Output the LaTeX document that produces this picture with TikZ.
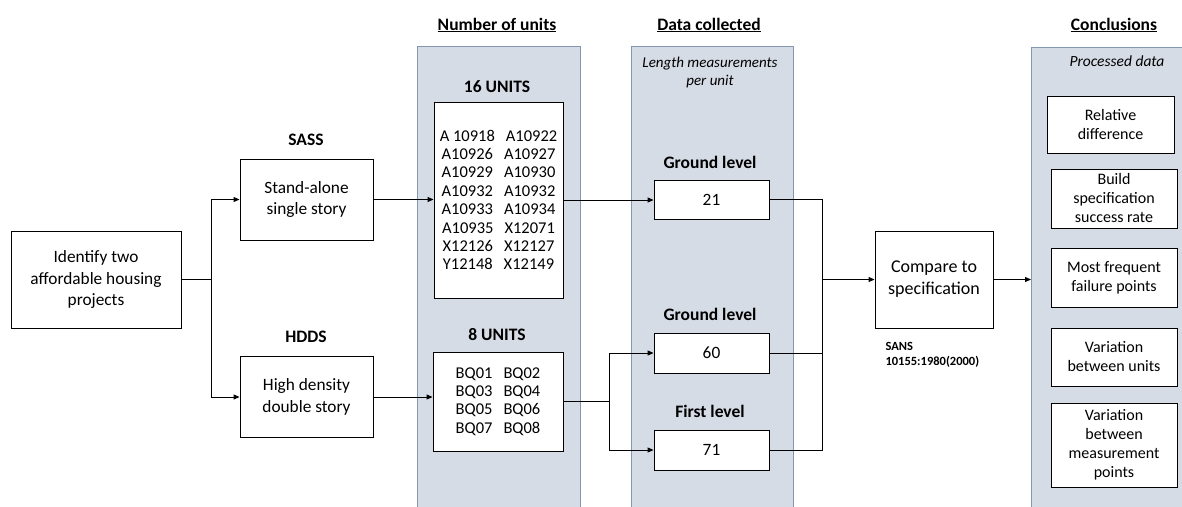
\documentclass[tikz,border=0pt]{standalone}
\usepackage{fontspec}
\setmainfont{Carlito}
\usetikzlibrary{arrows.meta}
\definecolor{panelfill}{HTML}{D6DCE5}
\definecolor{paneldraw}{HTML}{8497B0}
\tikzset{
  box/.style={draw=black, line width=0.9pt, fill=white, align=center, inner sep=0pt,
    font=\fontsize{17.3}{21.5}\selectfont},
  cbox/.style={box, font=\fontsize{16}{19}\selectfont},
  panel/.style={draw=paneldraw, line width=0.9pt, fill=panelfill, anchor=north west, inner sep=0pt},
  title/.style={font=\fontsize{17.5}{20}\selectfont\bfseries},
  lab/.style={font=\fontsize{17.5}{20}\selectfont\bfseries},
  conn/.style={line width=0.9pt, draw=black},
  arr/.style={conn, -{Triangle[length=6pt,width=5pt]}},
}
\begin{document}
\begin{tikzpicture}[x=1pt,y=-1pt]
\useasboundingbox (0,0) rectangle (1182,506);
\clip (0,0) rectangle (1182,506);
% panels
\node[panel, minimum width=163pt, minimum height=480pt] (p1) at (417,46) {};
\node[panel, minimum width=162pt, minimum height=480pt] (p2) at (631,46) {};
\node[panel, minimum width=160pt, minimum height=480pt] (p3) at (1031,47) {};
% titles
\node[title] (t1) at (497,25) {\underline{Number of units}};
\node[title] (t2) at (709,25) {\underline{Data collected}};
\node[title] (t3) at (1114,25) {\underline{Conclusions}};
\node[font=\fontsize{15}{18}\selectfont\itshape, align=center] (t2s) at (710,72) {Length measurements\\per unit};
\node[font=\fontsize{15.5}{18}\selectfont\itshape] (t3s) at (1117,61) {Processed data};
% left part
\node[box, minimum width=170pt, minimum height=97pt] (id) at (96,279.5) {Identify two\\affordable housing\\projects};
\node[box, minimum width=133pt, minimum height=81pt] (sass) at (306.5,199.5) {Stand-alone\\single story};
\node[box, minimum width=133pt, minimum height=81pt] (hdds) at (306.5,397) {High density\\double story};
\node[lab] (lsass) at (306,140) {SASS};
\node[lab] (lhdds) at (306,337) {HDDS};
% units
\node[lab] (l16) at (497,87) {16 UNITS};
\node[lab] (l8) at (497,335) {8 UNITS};
\node[box, minimum width=129pt, minimum height=196pt, font=\fontsize{16.5}{18.4}\selectfont] (b16) at (498.5,200)
 {A 10918\hspace{11pt}A10922\\A10926\hspace{11pt}A10927\\A10929\hspace{11pt}A10930\\A10932\hspace{11pt}A10932\\A10933\hspace{11pt}A10934\\A10935\hspace{11pt}X12071\\X12126\hspace{11pt}X12127\\Y12148\hspace{11pt}X12149};
\node[box, minimum width=130pt, minimum height=99pt, font=\fontsize{16.5}{18.4}\selectfont] (b8) at (498,401.5)
 {BQ01\hspace{11pt}BQ02\\BQ03\hspace{11pt}BQ04\\BQ05\hspace{11pt}BQ06\\BQ07\hspace{11pt}BQ08};
% data collected
\node[lab] (lg1) at (710,162) {Ground level};
\node[lab] (lg2) at (710,314) {Ground level};
\node[lab] (lf1) at (710,411) {First level};
\node[box, minimum width=115pt, minimum height=39pt] (b21) at (711.5,199.5) {21};
\node[box, minimum width=115pt, minimum height=40pt] (b60) at (711.5,353) {60};
\node[box, minimum width=115pt, minimum height=40pt] (b71) at (711.5,450) {71};
% compare
\node[box, minimum width=118pt, minimum height=97pt, font=\fontsize{18}{22}\selectfont] (cmp) at (934,279.5) {Compare to\\specification};
\node[font=\fontsize{12.5}{15}\selectfont\bfseries, align=left, anchor=west] (sans) at (882,354.5) {SANS\\10155:1980(2000)};
% conclusions
\node[cbox, minimum width=127pt, minimum height=57pt] (c1) at (1110.5,124.5) {Relative\\difference};
\node[cbox, minimum width=126pt, minimum height=59pt] (c2) at (1114,198.5) {Build\\specification\\success rate};
\node[cbox, minimum width=126pt, minimum height=59pt] (c3) at (1114,277.5) {Most frequent\\failure points};
\node[cbox, minimum width=126pt, minimum height=58pt] (c4) at (1114,357) {Variation\\between units};
\node[cbox, minimum width=126pt, minimum height=84pt] (c5) at (1114,445) {Variation\\between\\measurement\\points};
% connectors
\coordinate (j1) at (211,279.5);
\draw[conn] (id.east) -- (j1);
\draw[arr] (j1) |- (sass.west);
\draw[arr] (j1) |- (hdds.west);
\draw[arr] (sass.east) -- (sass.east -| b16.west);
\draw[arr] (hdds.east) -- (hdds.east -| b8.west);
\draw[arr] (b16.east) -- (b16.east -| b21.west);
\coordinate (j2) at (609,401.5);
\draw[conn] (b8.east) -- (j2);
\draw[arr] (j2) |- (b60.west);
\draw[arr] (j2) |- (b71.west);
\coordinate (j3) at (822,279.5);
\draw[conn] (b21.east) -| (j3);
\draw[conn] (b71.east) -| (j3);
\draw[conn] (b60.east) -- (b60.east -| j3);
\draw[arr] (j3) -- (cmp.west);
\draw[arr] (cmp.east) -- (cmp.east -| p3.west);
\end{tikzpicture}
\end{document}
